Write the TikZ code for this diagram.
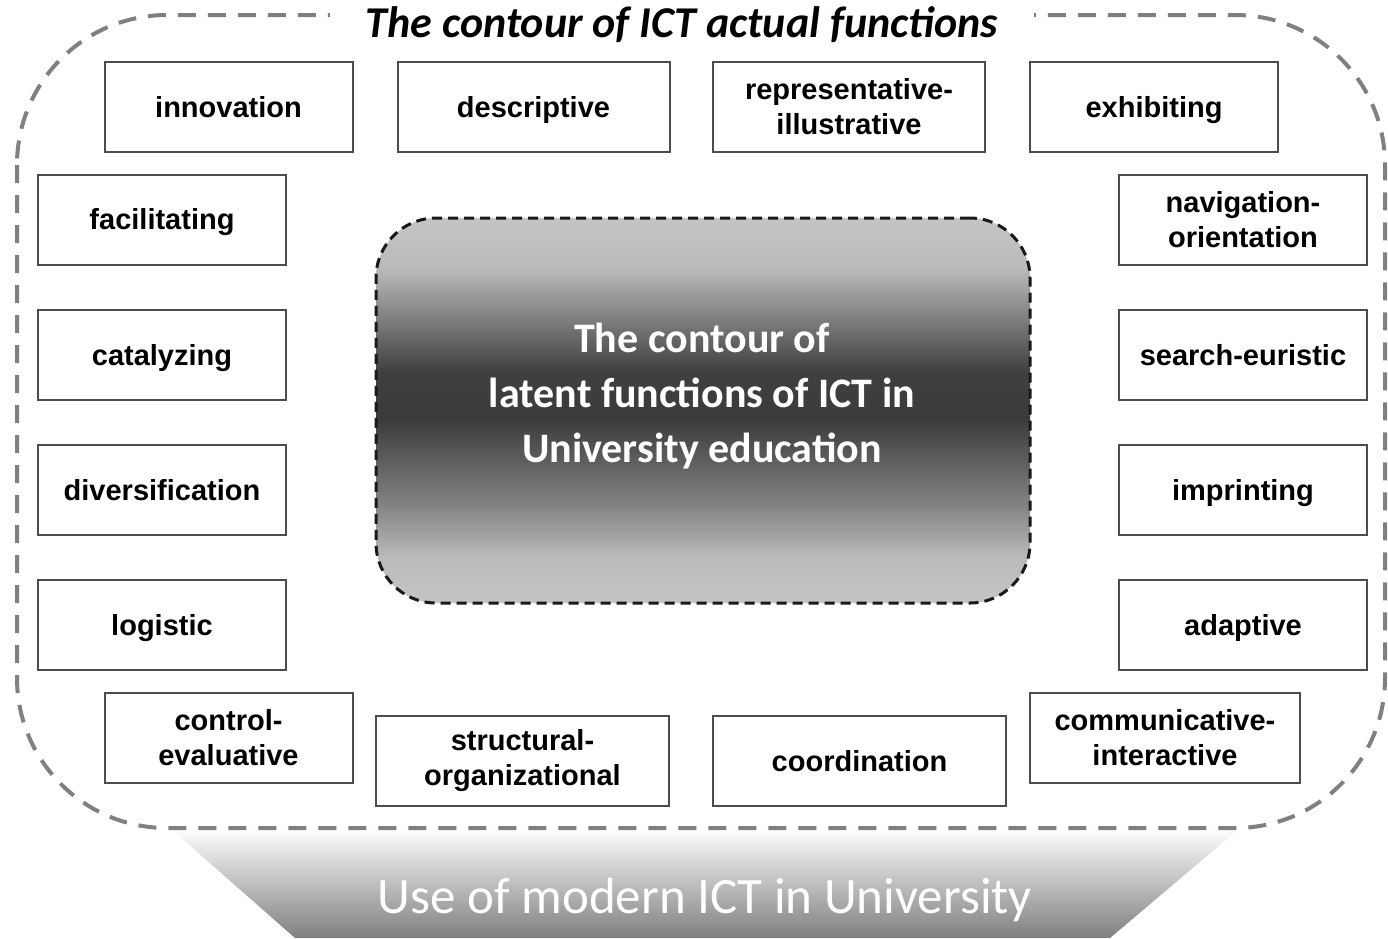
\documentclass[tikz,border=0pt]{standalone}
\usepackage{fontspec}
\setmainfont{Liberation Sans}
\newfontfamily\calfont{Carlito}

\pgfdeclareverticalshading{latentshade}{100bp}{color(0bp)=(black!23); color(25bp)=(black!23);
  color(31bp)=(black!27); color(37.5bp)=(black!48); color(49bp)=(black!77); color(55bp)=(black!75);
  color(68.5bp)=(black!27); color(75bp)=(black!23); color(100bp)=(black!23)}

\tikzset{
  funcbox/.style={draw=black!70, line width=1pt, fill=white, minimum width=124pt,
    minimum height=45pt, align=center, inner sep=2pt, text height=13pt, text depth=3pt,
    font=\bfseries\fontsize{14.5}{17.5}\selectfont},
  twoline/.style={text height=, text depth=},
  widebox/.style={funcbox, minimum width=136pt},
  longbox/.style={funcbox, minimum width=146.5pt},
}

\begin{document}
\begin{tikzpicture}[x=0.5pt, y=-0.5pt]
            \useasboundingbox (0,0) rectangle (1388,938);
            % base of the diagram
            \shade[top color=white, bottom color=black!50] (170,828) -- (1240,828) -- (1110,938) -- (295,938) -- cycle;
            \node[text=white, font=\calfont\fontsize{25.5}{30}\selectfont] (usage) at (705,900) {Use of modern ICT in University};
            % contour of actual functions
            \draw[black!50, line width=2pt, dash pattern=on 9pt off 6pt, rounded corners=75pt] (17,15) rectangle (1385,828);
            \node[fill=white, minimum width=352pt, minimum height=22pt, font=\calfont\bfseries\itshape\fontsize{22}{26}\selectfont] (title) at (682,25) {The contour of ICT actual functions};
            % latent functions
            \node[draw=black!90, line width=1.5pt, dash pattern=on 5pt off 3pt, rounded corners=30pt,
              minimum width=327pt, minimum height=192.5pt, shading=latentshade] (latent) at (703,410.5) {};
            \node[text=white, align=center, font=\calfont\bfseries\fontsize{21}{27.5}\selectfont] (latenttext) at (702,396) {The contour of\\latent functions of ICT in\\University education};
            % top row
            \node[funcbox] (innov) at (228.5,107) {innovation};
            \node[widebox] (descr) at (533.5,107) {descriptive};
            \node[widebox, twoline] (repr) at (849,107) {representative-\\illustrative};
            \node[funcbox] (exhib) at (1154,107) {exhibiting};
            % left column
            \node[funcbox] (facil) at (162,219.5) {facilitating};
            \node[funcbox] (catal) at (162,355) {catalyzing};
            \node[funcbox] (diver) at (162,490) {diversification};
            \node[funcbox] (logis) at (162,625) {logistic};
            % right column
            \node[funcbox, twoline] (navig) at (1243,219.5) {navigation-\\orientation};
            \node[funcbox] (search) at (1243,355) {search-euristic};
            \node[funcbox] (impr) at (1243,490) {imprinting};
            \node[funcbox] (adapt) at (1243,625) {adaptive};
            % bottom row
            \node[funcbox, twoline] (control) at (228.5,738) {control-\\evaluative};
            \node[longbox, twoline] (struct) at (522.5,761) {structural-\\organizational};
            \node[longbox] (coord) at (859.5,761) {coordination};
            \node[funcbox, twoline, minimum width=135pt] (commun) at (1165,738) {communicative-\\interactive};
        \end{tikzpicture}
\end{document}
